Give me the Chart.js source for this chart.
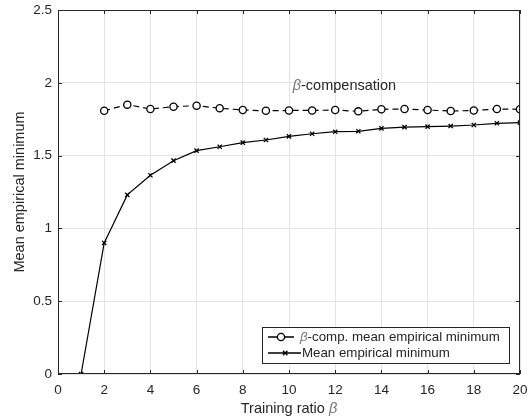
<!DOCTYPE html>
<html>
<head>
<meta charset="utf-8">
<script src="https://cdn.jsdelivr.net/npm/chart.js@4/dist/chart.umd.min.js"></script>
<style>
  html, body { margin: 0; padding: 0; background: #fff; }
  canvas { display: block; }
</style>
</head>
<body>
<canvas id="minChart" width="532" height="420"></canvas>
<script>
// training ratio beta
const ratios = [1, 2, 3, 4, 5, 6, 7, 8, 9, 10, 11, 12, 13, 14, 15, 16, 17, 18, 19, 20];
// mean empirical minimum (x markers)
const meanMin = [0, 0.90, 1.23, 1.365, 1.465, 1.534, 1.561, 1.589, 1.607, 1.632,
                 1.65, 1.664, 1.667, 1.687, 1.696, 1.699, 1.703, 1.71, 1.722, 1.726];
// beta-compensated mean empirical minimum (o markers), no value at beta = 1
const compMin = [null, 1.808, 1.85, 1.82, 1.836, 1.843, 1.825, 1.813, 1.808, 1.81,
                 1.81, 1.813, 1.804, 1.818, 1.82, 1.813, 1.806, 1.81, 1.82, 1.818];
const xTicks = [0, 2, 4, 6, 8, 10, 12, 14, 16, 18, 20];
const yTicks = [0, 0.5, 1, 1.5, 2, 2.5];
const seriesNames = ['-comp. mean empirical minimum', 'Mean empirical minimum'];

const FONT = '"Liberation Sans", Arial, Helvetica, sans-serif';
const AX = '#262626';

const toPoints = (ys) => ratios.map((x, i) => ({ x: x, y: ys[i] })).filter(p => p.y !== null);

// text with an italic, lighter beta
function drawBetaText(ctx, parts, x, y, size, align) {
    const widths = parts.map(p => {
        ctx.font = (p.beta ? 'italic ' : '') + size + 'px ' + FONT;
        return ctx.measureText(p.t).width;
    });
    const total = widths.reduce((a, b) => a + b, 0);
    let cx = align === 'center' ? x - total / 2 : x;
    parts.forEach((p, i) => {
        ctx.font = (p.beta ? 'italic ' : '') + size + 'px ' + FONT;
        ctx.fillStyle = p.beta ? '#777' : AX;
        ctx.textAlign = 'left';
        ctx.fillText(p.t, cx, y);
        cx += widths[i];
    });
}

const frame = {
    id: 'frame',
    afterDraw(chart) {
        const { ctx, chartArea: a, scales } = chart;
        const xs = scales.x, ys = scales.y;
        ctx.save();
        // box
        ctx.strokeStyle = AX;
        ctx.lineWidth = 1;
        ctx.strokeRect(a.left + 0.5, a.top + 0.5, a.right - a.left - 1, a.bottom - a.top - 1);
        // inward ticks on all four sides
        ctx.beginPath();
        xTicks.forEach(v => {
            const px = Math.round(xs.getPixelForValue(v)) + 0.5;
            ctx.moveTo(px, a.bottom); ctx.lineTo(px, a.bottom - 4);
            ctx.moveTo(px, a.top); ctx.lineTo(px, a.top + 4);
        });
        yTicks.forEach(v => {
            const py = Math.round(ys.getPixelForValue(v)) + 0.5;
            ctx.moveTo(a.left, py); ctx.lineTo(a.left + 4, py);
            ctx.moveTo(a.right, py); ctx.lineTo(a.right - 4, py);
        });
        ctx.stroke();

        ctx.textBaseline = 'middle';
        // axis titles
        drawBetaText(ctx, [{ t: 'Training ratio ' }, { t: 'β', beta: true }],
            (a.left + a.right) / 2, 409, 14.5, 'center');
        ctx.save();
        ctx.translate(20, (a.top + a.bottom) / 2);
        ctx.rotate(-Math.PI / 2);
        ctx.font = '14.5px ' + FONT;
        ctx.fillStyle = AX;
        ctx.textAlign = 'center';
        ctx.fillText('Mean empirical minimum', 0, 0);
        ctx.restore();

        // annotation
        drawBetaText(ctx, [{ t: 'β', beta: true }, { t: '-compensation' }],
            xs.getPixelForValue(12.4), ys.getPixelForValue(1.98), 14.5, 'center');

        // legend
        const lx = 262, ly = 327, lw = 247, lh = 36;
        ctx.fillStyle = '#fff';
        ctx.fillRect(lx, ly, lw, lh);
        ctx.lineWidth = 1;
        ctx.strokeStyle = AX;
        ctx.strokeRect(lx + 0.5, ly + 0.5, lw, lh);
        const rows = [ly + 10, ly + 26];
        ctx.lineWidth = 1.3;
        ctx.strokeStyle = '#000';
        // row 1: short segments either side of a circle
        ctx.beginPath();
        ctx.moveTo(lx + 6, rows[0]); ctx.lineTo(lx + 15, rows[0]);
        ctx.moveTo(lx + 23, rows[0]); ctx.lineTo(lx + 32, rows[0]);
        ctx.stroke();
        ctx.beginPath();
        ctx.arc(lx + 19, rows[0], 3.6, 0, Math.PI * 2);
        ctx.fillStyle = '#fff';
        ctx.fill();
        ctx.stroke();
        // row 2: solid with x
        ctx.beginPath();
        ctx.moveTo(lx + 6, rows[1]); ctx.lineTo(lx + 39, rows[1]);
        ctx.moveTo(lx + 21, rows[1] - 2.2); ctx.lineTo(lx + 25.4, rows[1] + 2.2);
        ctx.moveTo(lx + 25.4, rows[1] - 2.2); ctx.lineTo(lx + 21, rows[1] + 2.2);
        ctx.stroke();
        drawBetaText(ctx, [{ t: 'β', beta: true }, { t: seriesNames[0] }], lx + 38, rows[0] + 0.5, 13.3, 'left');
        drawBetaText(ctx, [{ t: seriesNames[1] }], lx + 40, rows[1] + 0.5, 13.3, 'left');
        ctx.restore();
    }
};

new Chart(document.getElementById('minChart').getContext('2d'), {
    type: 'scatter',
    data: {
        datasets: [{
            label: 'β' + seriesNames[0],
            data: toPoints(compMin),
            showLine: true,
            borderColor: '#000',
            borderWidth: 1.2,
            borderDash: [6, 4],
            pointStyle: 'circle',
            pointRadius: 3.6,
            pointBorderWidth: 1.3,
            pointBackgroundColor: '#fff',
            pointBorderColor: '#000'
        }, {
            label: seriesNames[1],
            data: toPoints(meanMin),
            showLine: true,
            borderColor: '#000',
            borderWidth: 1.2,
            pointStyle: 'crossRot',
            pointRadius: 3,
            pointBorderWidth: 1.3,
            pointBorderColor: '#000'
        }]
    },
    options: {
        responsive: false,
        animation: false,
        devicePixelRatio: 1,
        layout: { padding: { top: 10, right: 12, left: 0, bottom: 0 } },
        plugins: {
            legend: { display: false },
            tooltip: { enabled: false }
        },
        scales: {
            x: {
                type: 'linear',
                min: 0, max: 20,
                afterFit: (s) => { s.height = 46; s.paddingLeft = 0; s.paddingRight = 0; },
                afterBuildTicks: (s) => { s.ticks = xTicks.map(v => ({ value: v })); },
                grid: { color: '#e3e3e3', drawTicks: false },
                border: { display: false },
                ticks: { color: AX, font: { family: FONT, size: 13.5 }, padding: 8, maxRotation: 0,
                         callback: (v) => String(v) }
            },
            y: {
                type: 'linear',
                min: 0, max: 2.5,
                afterFit: (s) => { s.width = 58; s.paddingTop = 0; s.paddingBottom = 0; },
                afterBuildTicks: (s) => { s.ticks = yTicks.map(v => ({ value: v })); },
                grid: { color: '#e3e3e3', drawTicks: false },
                border: { display: false },
                ticks: { color: AX, font: { family: FONT, size: 13.5 }, padding: 6,
                         callback: (v) => String(v) }
            }
        }
    },
    plugins: [frame]
});
</script>
</body>
</html>
